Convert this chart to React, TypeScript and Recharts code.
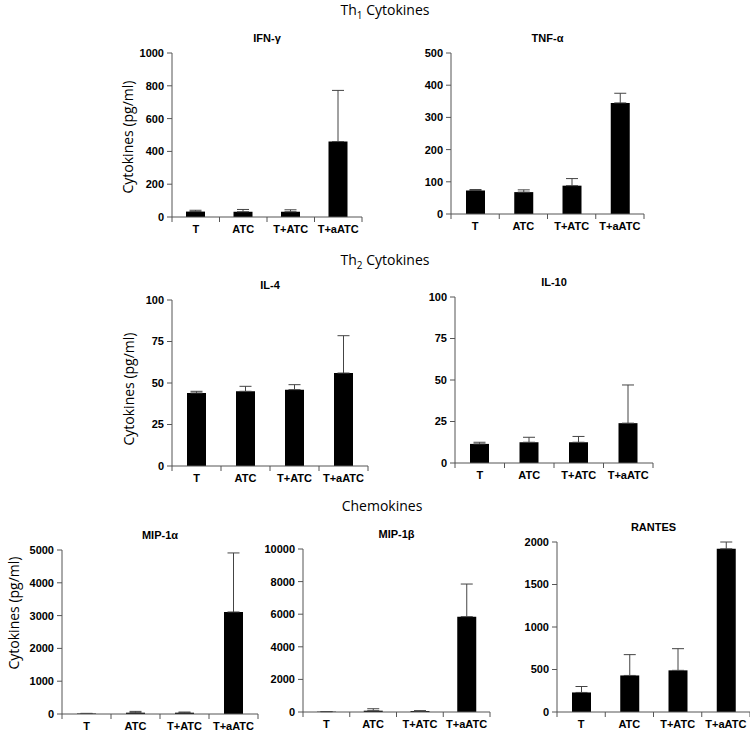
import { BarChart, Bar, XAxis, YAxis, ErrorBar } from "recharts";

const groups = ["T", "ATC", "T+ATC", "T+aATC"];

// Th1
const ifnMean = [33, 32, 32, 460];
const ifnErr = [8, 14, 12, 312];
const ifnTicks = [0, 200, 400, 600, 800, 1000];

const tnfMean = [73, 68, 88, 345];
const tnfErr = [3, 7, 22, 30];
const tnfTicks = [0, 100, 200, 300, 400, 500];

// Th2
const il4Mean = [44, 45, 46, 56];
const il4Err = [1, 3, 3, 22.5];
const il4Ticks = [0, 25, 50, 75, 100];

const il10Mean = [11.5, 12.5, 12.5, 24];
const il10Err = [1, 3, 3.5, 23];
const il10Ticks = [0, 25, 50, 75, 100];

// Chemokines
const mip1aMean = [15, 40, 40, 3110];
const mip1aErr = [5, 40, 20, 1800];
const mip1aTicks = [0, 1000, 2000, 3000, 4000, 5000];

const mip1bMean = [20, 80, 60, 5850];
const mip1bErr = [10, 120, 20, 2000];
const mip1bTicks = [0, 2000, 4000, 6000, 8000, 10000];

const rantesMean = [230, 430, 490, 1920];
const rantesErr = [70, 245, 255, 80];
const rantesTicks = [0, 500, 1000, 1500, 2000];

const AXIS = "#555";
const tickFont = { fontFamily: "'Liberation Sans', Arial, sans-serif", fontWeight: 700, fontSize: 11 };
const textFont = "'Open Sans', 'Noto Sans', sans-serif";

type PanelProps = {
  title: string;
  means: number[];
  errs: number[];
  ticks: number[];
  x: number; // y-axis x position on page
  top: number; // plot top on page
  w: number; // plot width
  h: number; // plot height
};

function Panel({ title, means, errs, ticks, x, top, w, h }: PanelProps) {
  const data = groups.map((g, i) => ({ group: g, value: means[i], err: [0, errs[i]] }));
  const YW = 50;
  const MT = 8;
  const XH = 24;
  const MR = 2;
  const band = w / groups.length;
  const bottom = MT + h;

  const renderTick = (props: any) => {
    const { x: tx, payload, index } = props;
    return (
      <g>
        {index === 0 && (
          <line x1={tx - band / 2} x2={tx - band / 2} y1={bottom} y2={bottom + 5} stroke={AXIS} />
        )}
        <line x1={tx + band / 2} x2={tx + band / 2} y1={bottom} y2={bottom + 5} stroke={AXIS} />
        <text x={tx} y={bottom + 16} textAnchor="middle" fill="#000" style={tickFont}>
          {payload.value}
        </text>
      </g>
    );
  };

  return (
    <>
      <div
        style={{
          position: "absolute",
          left: x,
          width: w,
          top: top - 21,
          textAlign: "center",
          lineHeight: "12px",
          ...tickFont,
        }}
      >
        {title}
      </div>
      <div style={{ position: "absolute", left: x - YW, top: top - MT }}>
        <BarChart
          width={YW + w + MR}
          height={MT + h + XH}
          data={data}
          margin={{ top: MT, right: MR, left: 0, bottom: 0 }}
        >
          <XAxis
            dataKey="group"
            height={XH}
            interval={0}
            tickLine={false}
            axisLine={{ stroke: AXIS }}
            tick={renderTick}
          />
          <YAxis
            type="number"
            width={YW}
            domain={[0, ticks[ticks.length - 1]]}
            ticks={ticks}
            interval={0}
            tickSize={5}
            tickMargin={3}
            tickLine={{ stroke: AXIS }}
            axisLine={{ stroke: AXIS }}
            tick={{ fill: "#000", ...tickFont }}
          />
          <Bar dataKey="value" fill="#000" barSize={19} isAnimationActive={false}>
            <ErrorBar dataKey="err" direction="y" width={6} stroke="#444" strokeWidth={1} />
          </Bar>
        </BarChart>
      </div>
    </>
  );
}

function YLabel({ cx, cy }: { cx: number; cy: number }) {
  return (
    <div
      style={{
        position: "absolute",
        left: cx,
        top: cy,
        transform: "translate(-50%, -50%) rotate(-90deg)",
        whiteSpace: "nowrap",
        fontFamily: textFont,
        fontSize: 14,
        color: "#000",
      }}
    >
      Cytokines (pg/ml)
    </div>
  );
}

function Section({ cx, cy, children }: { cx: number; cy: number; children: any }) {
  return (
    <div
      style={{
        position: "absolute",
        left: cx,
        top: cy,
        transform: "translate(-50%, -50%)",
        whiteSpace: "nowrap",
        fontFamily: textFont,
        fontSize: 14,
        lineHeight: "18px",
        color: "#000",
      }}
    >
      {children}
    </div>
  );
}

export default function App() {
  return (
    <div
      style={{
        position: "absolute",
        left: 0,
        top: 0,
        width: 750,
        height: 731,
        background: "#fff",
        overflow: "hidden",
      }}
    >
      <Section cx={385} cy={10}>
        Th<sub style={{ fontSize: 10, lineHeight: 0 }}>1</sub> Cytokines
      </Section>
      <Section cx={385} cy={260}>
        Th<sub style={{ fontSize: 10, lineHeight: 0 }}>2</sub> Cytokines
      </Section>
      <Section cx={382} cy={506}>
        Chemokines
      </Section>

      <YLabel cx={127} cy={137} />
      <YLabel cx={128} cy={389} />
      <YLabel cx={13} cy={613} />

      <Panel title="IFN-γ" means={ifnMean} errs={ifnErr} ticks={ifnTicks} x={172} top={53} w={190} h={164} />
      <Panel title="TNF-α" means={tnfMean} errs={tnfErr} ticks={tnfTicks} x={451} top={53} w={193} h={161} />
      <Panel title="IL-4" means={il4Mean} errs={il4Err} ticks={il4Ticks} x={172} top={300} w={196} h={166} />
      <Panel title="IL-10" means={il10Mean} errs={il10Err} ticks={il10Ticks} x={455} top={297} w={198} h={166} />
      <Panel title="MIP-1α" means={mip1aMean} errs={mip1aErr} ticks={mip1aTicks} x={62} top={550} w={196} h={164} />
      <Panel title="MIP-1β" means={mip1bMean} errs={mip1bErr} ticks={mip1bTicks} x={303} top={549} w={187} h={163} />
      <Panel title="RANTES" means={rantesMean} errs={rantesErr} ticks={rantesTicks} x={557} top={542} w={193} h={170} />
    </div>
  );
}
